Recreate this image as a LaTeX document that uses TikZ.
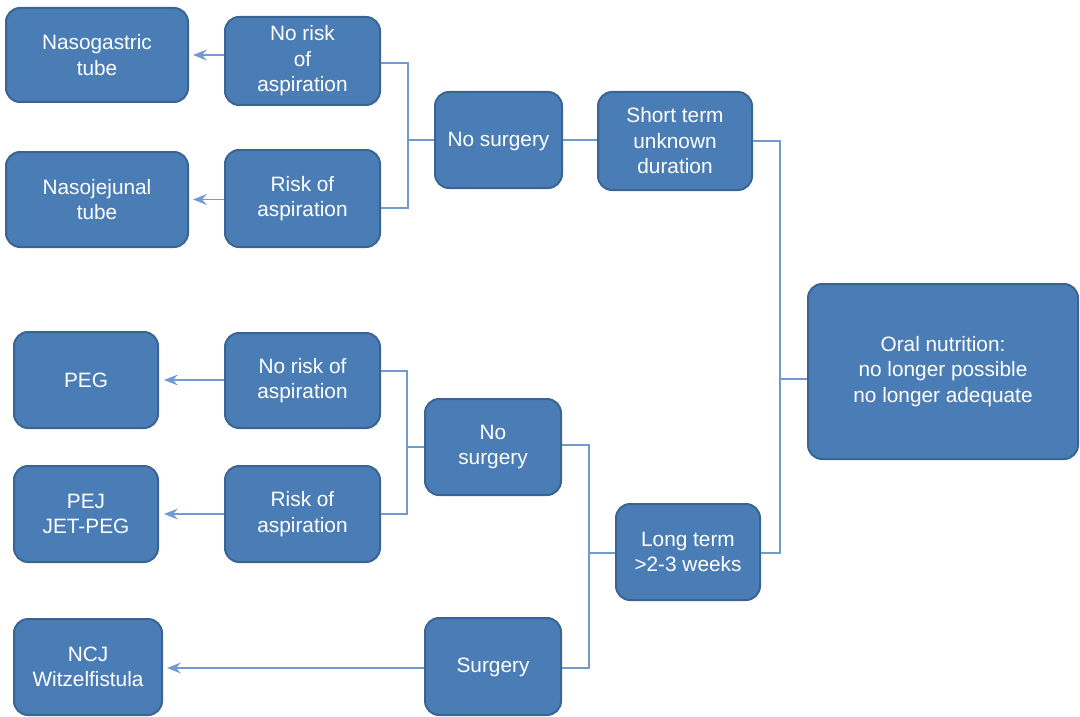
\documentclass[tikz,border=0pt]{standalone}
\usepackage{fontspec}
\setmainfont{Liberation Sans}
\usetikzlibrary{arrows.meta,calc}
\definecolor{boxfill}{HTML}{4A7DB5}
\definecolor{boxline}{HTML}{3A6494}
\definecolor{wirecol}{HTML}{6F9BD0}
\begin{document}
\begin{tikzpicture}[x=1pt,y=-1pt,
  box/.style={draw=boxline, line width=2pt, fill=boxfill, rounded corners=14pt,
    text=white, align=center, font=\fontsize{20.8}{25.5}\selectfont, inner sep=0pt},
  wire/.style={draw=wirecol, line width=1.3pt},
  arr/.style={wire, -{Stealth[length=14pt,width=11pt,inset=5pt]}}]
\useasboundingbox (0,0) rectangle (1080,717);

% upper branch: short term
\node[box, minimum width=182pt, minimum height=94pt] (ng) at (97,55) {Nasogastric\\tube};
\node[box, minimum width=155pt, minimum height=88pt] (nrA) at (302.5,61) {No risk\\of\\aspiration};
\node[box, minimum width=182pt, minimum height=95pt] (nj) at (97,199.5) {Nasojejunal\\tube};
\node[box, minimum width=155pt, minimum height=97pt] (rA) at (302.5,198.5) {Risk of\\aspiration};
\node[box, minimum width=127pt, minimum height=96pt, text depth=2pt] (nsA) at (498.5,140) {No surgery};
\node[box, minimum width=154pt, minimum height=98pt] (st) at (675,141) {Short term\\unknown\\duration};

% root
\node[box, minimum width=270pt, minimum height=175pt] (oral) at (943,371.5) {Oral nutrition:\\no longer possible\\no longer adequate};

% lower branch: long term
\node[box, minimum width=144pt, minimum height=96pt] (peg) at (86,380) {PEG};
\node[box, minimum width=155pt, minimum height=95pt] (nrB) at (302.5,380.5) {No risk of\\aspiration};
\node[box, minimum width=144pt, minimum height=96pt] (pej) at (86,514) {PEJ\\JET-PEG};
\node[box, minimum width=155pt, minimum height=96pt] (rB) at (302.5,514) {Risk of\\aspiration};
\node[box, minimum width=136pt, minimum height=96pt] (nsB) at (493,447) {No\\surgery};
\node[box, minimum width=144pt, minimum height=96pt] (lt) at (688,552) {Long term\\>2-3 weeks};
\node[box, minimum width=148pt, minimum height=96pt] (ncj) at (88,667) {NCJ\\Witzelfistula};
\node[box, minimum width=136pt, minimum height=97pt, text depth=2pt] (sg) at (493,666.5) {Surgery};

% junction points
\coordinate (jA) at (408,140);
\coordinate (jB) at (407,447);
\coordinate (jL) at (589,553);
\coordinate (jR) at (780,379);
\coordinate (sgw) at ([yshift=-1.5pt]sg.west);

% connectors, upper branch
\draw[wire] ([yshift=-2pt]nrA.east) -| (jA) |- ([yshift=-9.5pt]rA.east);
\draw[wire] (jA) -- (nsA.west);
\draw[wire] (nsA.east) -- (nsA.east -| st.west);
\draw[arr] (nrA.west |- ng.east) -- ([xshift=4pt]ng.east);
\draw[arr] (rA.west |- nj.east) -- ([xshift=4pt]nj.east);

% connectors to root
\draw[wire] (st.east) -| (jR) |- ([yshift=-1pt]lt.east);
\draw[wire] (jR) -- (jR -| oral.west);

% connectors, lower branch
\draw[wire] ([yshift=9.5pt]nrB.east) -| (jB) |- (rB.east);
\draw[wire] (jB) -- (nsB.west);
\draw[wire] ([yshift=2pt]nsB.east) -| (jL) |- ([yshift=-1.5pt]sg.east);
\draw[wire] (jL) -- (jL -| lt.west);
\draw[arr] (nrB.west |- peg.east) -- ([xshift=5pt]peg.east);
\draw[arr] (rB.west |- pej.east) -- ([xshift=5pt]pej.east);
\draw[arr] (sgw) -- ($(sgw -| ncj.east)+(4,0)$);
\end{tikzpicture}
\end{document}
